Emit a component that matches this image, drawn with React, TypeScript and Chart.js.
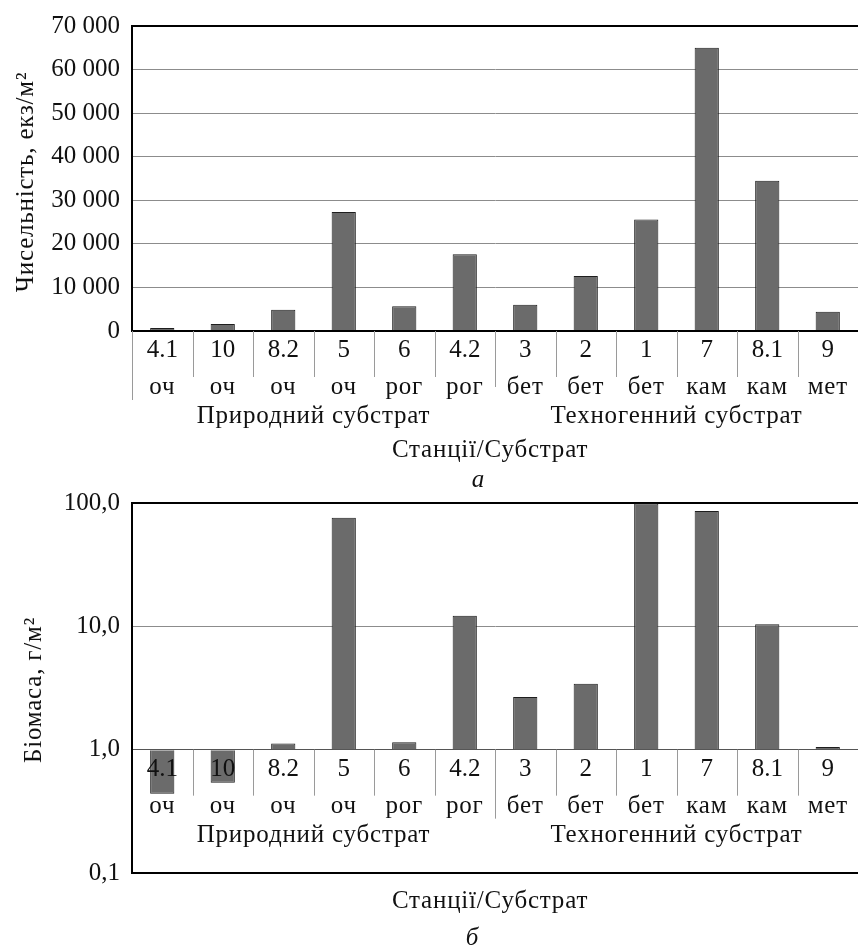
import React, { useEffect, useRef } from "react";
import { Chart, registerables } from "chart.js";

Chart.register(...registerables);

// ---------- data ----------
const stations = ["4.1", "10", "8.2", "5", "6", "4.2", "3", "2", "1", "7", "8.1", "9"];
const substrates = ["оч", "оч", "оч", "оч", "рог", "рог", "бет", "бет", "бет", "кам", "кам", "мет"];
const groupNames = ["Природний субстрат", "Техногенний субстрат"];
const groupSizes = [6, 6];
const abundance = [700, 1600, 4900, 27300, 5700, 17600, 6000, 12600, 25600, 65000, 34500, 4400];
const biomass = [0.44, 0.54, 1.12, 76, 1.15, 12.2, 2.67, 3.42, 99, 86, 10.4, 1.05];
const abundanceTicks = [0, 10000, 20000, 30000, 40000, 50000, 60000, 70000];
const biomassTicks = [0.1, 1, 10, 100];
const xTitle = "Станції/Субстрат";
const yTitleA = "Чисельність, екз/м²";
const yTitleB = "Біомаса, г/м²";
const letterA = "а";
const letterB = "б";

const FONT = "'Liberation Serif', 'Times New Roman', serif";
const FS = 25;
const LS = "0.8px";
const BAR_FILL = "#6b6b6b";
const BAR_EDGE = "#1e1e1e";
const GRID = "#8c8c8c";
const SEP = "#9a9a9a";

function fmtThousands(v: number) {
  return String(v).replace(/\B(?=(\d{3})+(?!\d))/g, " ");
}
function fmtComma(v: number) {
  return v.toFixed(1).replace(".", ",");
}

type LabelOpts = {
  base: number;
  leftLen: number | null;
  groupLen: number;
  titleY: number;
  letter: string;
  letterX: number;
  letterY: number;
  yTitle: string;
  yTitleX: number;
  yTitleY: number;
};

function makeLabelPlugin(o: LabelOpts) {
  return {
    id: "multiLevelLabels",
    afterDatasetsDraw(chart: any) {
      const xs = chart.scales.x;
      const ys = chart.scales.y;
      const ctx = chart.ctx as any;
      const axisY = ys.getPixelForValue(o.base);
      const n = stations.length;
      const half = (xs.getPixelForValue(1) - xs.getPixelForValue(0)) / 2;
      ctx.save();
      // separators
      ctx.strokeStyle = SEP;
      ctx.lineWidth = 1;
      const boundaries: number[] = [];
      let acc = 0;
      groupSizes.forEach((s) => {
        acc += s;
        boundaries.push(acc);
      });
      for (let k = 0; k < n; k++) {
        let len = 46;
        if (k === 0) {
          if (o.leftLen === null) continue;
          len = o.leftLen;
        } else if (boundaries.includes(k)) {
          len = o.groupLen;
        }
        const bx = Math.round(xs.getPixelForValue(k) - half) + 0.5;
        ctx.beginPath();
        ctx.moveTo(bx, axisY);
        ctx.lineTo(bx, axisY + len);
        ctx.stroke();
      }
      // category rows
      ctx.fillStyle = "#111";
      ctx.textAlign = "center";
      ctx.textBaseline = "alphabetic";
      ctx.font = `${FS}px ${FONT}`;
      ctx.letterSpacing = "0px";
      for (let i = 0; i < n; i++) {
        const cx = xs.getPixelForValue(i);
        ctx.fillText(stations[i], cx, axisY + 26);
      }
      ctx.letterSpacing = LS;
      for (let i = 0; i < n; i++) {
        const cx = xs.getPixelForValue(i);
        ctx.fillText(substrates[i], cx, axisY + 63);
      }
      // group labels
      let start = 0;
      groupNames.forEach((g, gi) => {
        const end = start + groupSizes[gi] - 1;
        const cx = (xs.getPixelForValue(start) + xs.getPixelForValue(end)) / 2;
        ctx.fillText(g, cx, axisY + 92);
        start = end + 1;
      });
      // axis title
      const ca = chart.chartArea;
      ctx.fillText(xTitle, (ca.left + ca.right) / 2 - 5, o.titleY);
      // y title
      ctx.save();
      ctx.translate(o.yTitleX, o.yTitleY);
      ctx.rotate(-Math.PI / 2);
      ctx.textBaseline = "middle";
      ctx.fillText(o.yTitle, 0, 0);
      ctx.restore();
      // panel letter
      ctx.letterSpacing = "0px";
      ctx.font = `italic ${FS}px ${FONT}`;
      ctx.fillText(o.letter, o.letterX, o.letterY);
      ctx.restore();
    },
  };
}

const fixYWidth = (s: any) => {
  s.width = 132;
  s.paddingTop = 0;
  s.paddingBottom = 0;
};

function PanelA() {
  const ref = useRef<HTMLCanvasElement>(null);
  useEffect(() => {
    const chart = new Chart(ref.current!, {
      type: "bar",
      data: {
        labels: stations,
        datasets: [
          {
            data: abundance,
            backgroundColor: BAR_FILL,
            borderColor: BAR_EDGE,
            borderWidth: 1,
            barPercentage: 0.4,
            categoryPercentage: 1,
          },
        ],
      },
      options: {
        responsive: false,
        animation: false,
        devicePixelRatio: 1,
        layout: { padding: { top: 26, bottom: 159, left: 0, right: 0 } },
        plugins: { legend: { display: false }, tooltip: { enabled: false } },
        scales: {
          x: { type: "category", display: false, offset: true },
          y: {
            type: "linear",
            min: 0,
            max: 70000,
            afterBuildTicks: (s: any) => {
              s.ticks = abundanceTicks.map((v) => ({ value: v }));
            },
            afterFit: fixYWidth,
            ticks: {
              color: "#111",
              padding: 12,
              font: { family: FONT, size: FS },
              callback: (v: any) => fmtThousands(Number(v)),
            },
            grid: {
              drawTicks: false,
              color: (c: any) => (c.tick && (c.tick.value === 70000 || c.tick.value === 0) ? "#000" : GRID),
              lineWidth: (c: any) => (c.tick && (c.tick.value === 70000 || c.tick.value === 0) ? 2 : 1),
            },
            border: { display: true, color: "#000", width: 2 },
          },
        },
      },
      plugins: [
        makeLabelPlugin({
          base: 0,
          leftLen: 69,
          groupLen: 56,
          titleY: 457,
          letter: letterA,
          letterX: 478,
          letterY: 487,
          yTitle: yTitleA,
          yTitleX: 26,
          yTitleY: 182,
        }),
      ],
    } as any);
    return () => chart.destroy();
  }, []);
  return <canvas ref={ref} width={858} height={490} style={{ display: "block" }} />;
}

function PanelB() {
  const ref = useRef<HTMLCanvasElement>(null);
  useEffect(() => {
    const chart = new Chart(ref.current!, {
      type: "bar",
      data: {
        labels: stations,
        datasets: [
          {
            data: biomass,
            base: 1,
            backgroundColor: BAR_FILL,
            borderColor: BAR_EDGE,
            borderWidth: 1,
            barPercentage: 0.4,
            categoryPercentage: 1,
          },
        ],
      },
      options: {
        responsive: false,
        animation: false,
        devicePixelRatio: 1,
        layout: { padding: { top: 13, bottom: 74, left: 0, right: 0 } },
        plugins: { legend: { display: false }, tooltip: { enabled: false } },
        scales: {
          x: { type: "category", display: false, offset: true },
          y: {
            type: "logarithmic",
            min: 0.1,
            max: 100,
            afterBuildTicks: (s: any) => {
              s.ticks = biomassTicks.map((v) => ({ value: v }));
            },
            afterFit: fixYWidth,
            ticks: {
              color: "#111",
              padding: 12,
              font: { family: FONT, size: FS },
              callback: (v: any) => fmtComma(Number(v)),
            },
            grid: {
              drawTicks: false,
              color: (c: any) => {
                const v = c.tick ? c.tick.value : 0;
                if (v === 100 || v === 0.1) return "#000";
                if (v === 1) return "#555";
                return GRID;
              },
              lineWidth: (c: any) => {
                const v = c.tick ? c.tick.value : 0;
                if (v === 100 || v === 0.1) return 2;
                return 1;
              },
            },
            border: { display: true, color: "#000", width: 2 },
          },
        },
      },
      plugins: [
        makeLabelPlugin({
          base: 1,
          leftLen: null,
          groupLen: 69,
          titleY: 418,
          letter: letterB,
          letterX: 472,
          letterY: 455,
          yTitle: yTitleB,
          yTitleX: 34,
          yTitleY: 200,
        }),
      ],
    } as any);
    return () => chart.destroy();
  }, []);
  return <canvas ref={ref} width={858} height={457} style={{ display: "block" }} />;
}

export default function App() {
  return (
    <div style={{ position: "absolute", left: 0, top: 0, width: 858, height: 947, background: "#fff" }}>
      <PanelA />
      <PanelB />
    </div>
  );
}
